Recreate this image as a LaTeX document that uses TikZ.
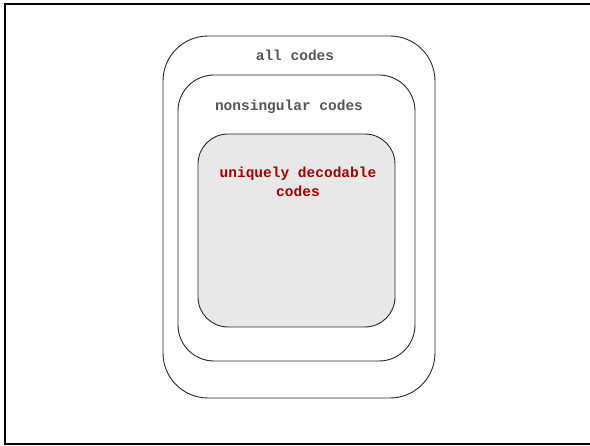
\documentclass[tikz,border=0pt]{standalone}
\usepackage{fontspec}
\setmonofont{Liberation Mono}
\definecolor{labelgray}{HTML}{555555}
\definecolor{labelred}{HTML}{A00000}
\definecolor{innerfill}{HTML}{E8E8E8}
\begin{document}
\begin{tikzpicture}[x=1pt,y=-1pt,
  setbox/.style={draw=black!85, line width=0.9pt},
  setlabel/.style={font=\ttfamily\bfseries\fontsize{14.5}{19}\selectfont, text=labelgray, inner sep=0pt, align=center}]
\useasboundingbox (0,0) rectangle (590,446);
% outer frame, open on the right
\draw[line width=2pt] (590,4) -- (5,4) -- (5,444) -- (590,444);
% nested sets of codes
\draw[setbox, rounded corners=45pt] (163,36) rectangle (435,398);
\draw[setbox, rounded corners=36pt] (178,75) rectangle (415,361);
\draw[setbox, fill=innerfill, rounded corners=30pt] (198,134) rectangle (395,327);
\node[setlabel] (all) at (295,55) {all codes};
\node[setlabel] (nonsing) at (289,107) {nonsingular codes};
\node[setlabel, text=labelred] (ud) at (298,182) {uniquely decodable\\codes};
\end{tikzpicture}
\end{document}
